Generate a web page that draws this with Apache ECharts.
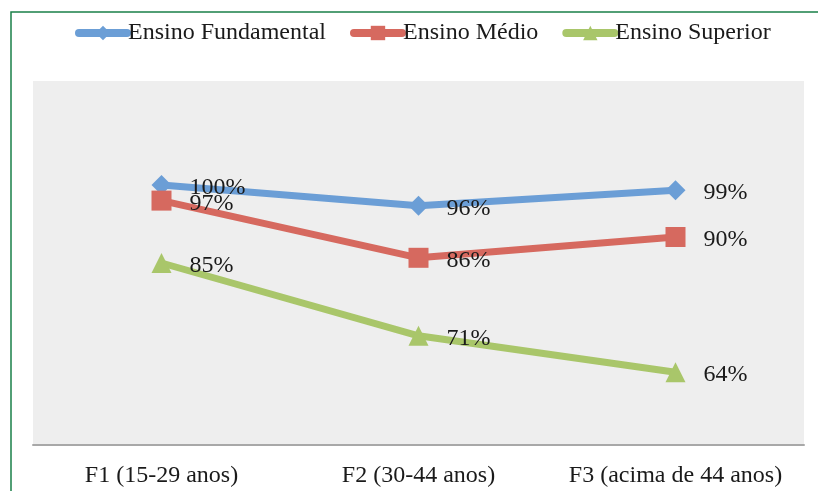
<!DOCTYPE html>
<html>
<head>
<meta charset="utf-8">
<script src="https://cdn.jsdelivr.net/npm/echarts@6/dist/echarts.min.js"></script>
<style>
  html, body { margin: 0; padding: 0; background: #ffffff; }
  #chart { width: 818px; height: 491px; }
</style>
</head>
<body>
<div id="chart"></div>
<script>
// Faixas etárias (eixo X)
const categories = ['F1 (15-29 anos)', 'F2 (30-44 anos)', 'F3 (acima de 44 anos)'];
// Percentuais por nível de ensino
const fundamental = [100, 96, 99];
const medio = [97, 86, 90];
const superior = [85, 71, 64];

const FONT = '"Liberation Serif", "DejaVu Serif", serif';

function lineSeries(name, data, color, symbol) {
  return {
    name: name,
    type: 'line',
    data: data,
    symbol: symbol,
    symbolSize: 20,
    lineStyle: { width: 7, color: color },
    itemStyle: { color: color },
    label: {
      show: true,
      position: 'right',
      distance: 18,
      offset: [0, 3],
      formatter: p => p.value + '%',
      color: '#1a1a1a',
      fontFamily: FONT,
      fontSize: 24
    },
    emphasis: { disabled: true },
    animation: false
  };
}

const chart = echarts.init(document.getElementById('chart'), null, { renderer: 'canvas' });
chart.setOption({
  backgroundColor: '#ffffff',
  graphic: [{
    type: 'rect',
    shape: { x: 11, y: 12, width: 900, height: 600 },
    style: { fill: 'none', stroke: '#1a8048', lineWidth: 1.5 },
    silent: true
  }],
  legend: {
    top: 16,
    left: 70,
    itemWidth: 48,
    itemHeight: 18,
    itemGap: 24,
    lineStyle: { width: 8, cap: 'round' },
    textStyle: { fontFamily: FONT, fontSize: 24, color: '#1a1a1a', padding: [0, 0, 0, -4] },
    data: ['Ensino Fundamental', 'Ensino Médio', 'Ensino Superior']
  },
  grid: {
    left: 33, right: 14, top: 81, bottom: 46,
    show: true, backgroundColor: '#eeeeee', borderWidth: 0
  },
  xAxis: {
    type: 'category',
    data: categories,
    boundaryGap: true,
    axisLine: { lineStyle: { color: '#a8a8a8', width: 2 } },
    axisTick: { show: false },
    axisLabel: { interval: 0, hideOverlap: false, margin: 19, fontFamily: FONT, fontSize: 24, color: '#1a1a1a' }
  },
  yAxis: {
    type: 'value',
    min: 50,
    max: 120,
    show: false,
    splitLine: { show: false }
  },
  series: [
    lineSeries('Ensino Fundamental', fundamental, '#6b9ed6', 'diamond'),
    lineSeries('Ensino Médio', medio, '#d6695f', 'rect'),
    lineSeries('Ensino Superior', superior, '#a9c66a', 'triangle')
  ]
});
</script>
</body>
</html>
